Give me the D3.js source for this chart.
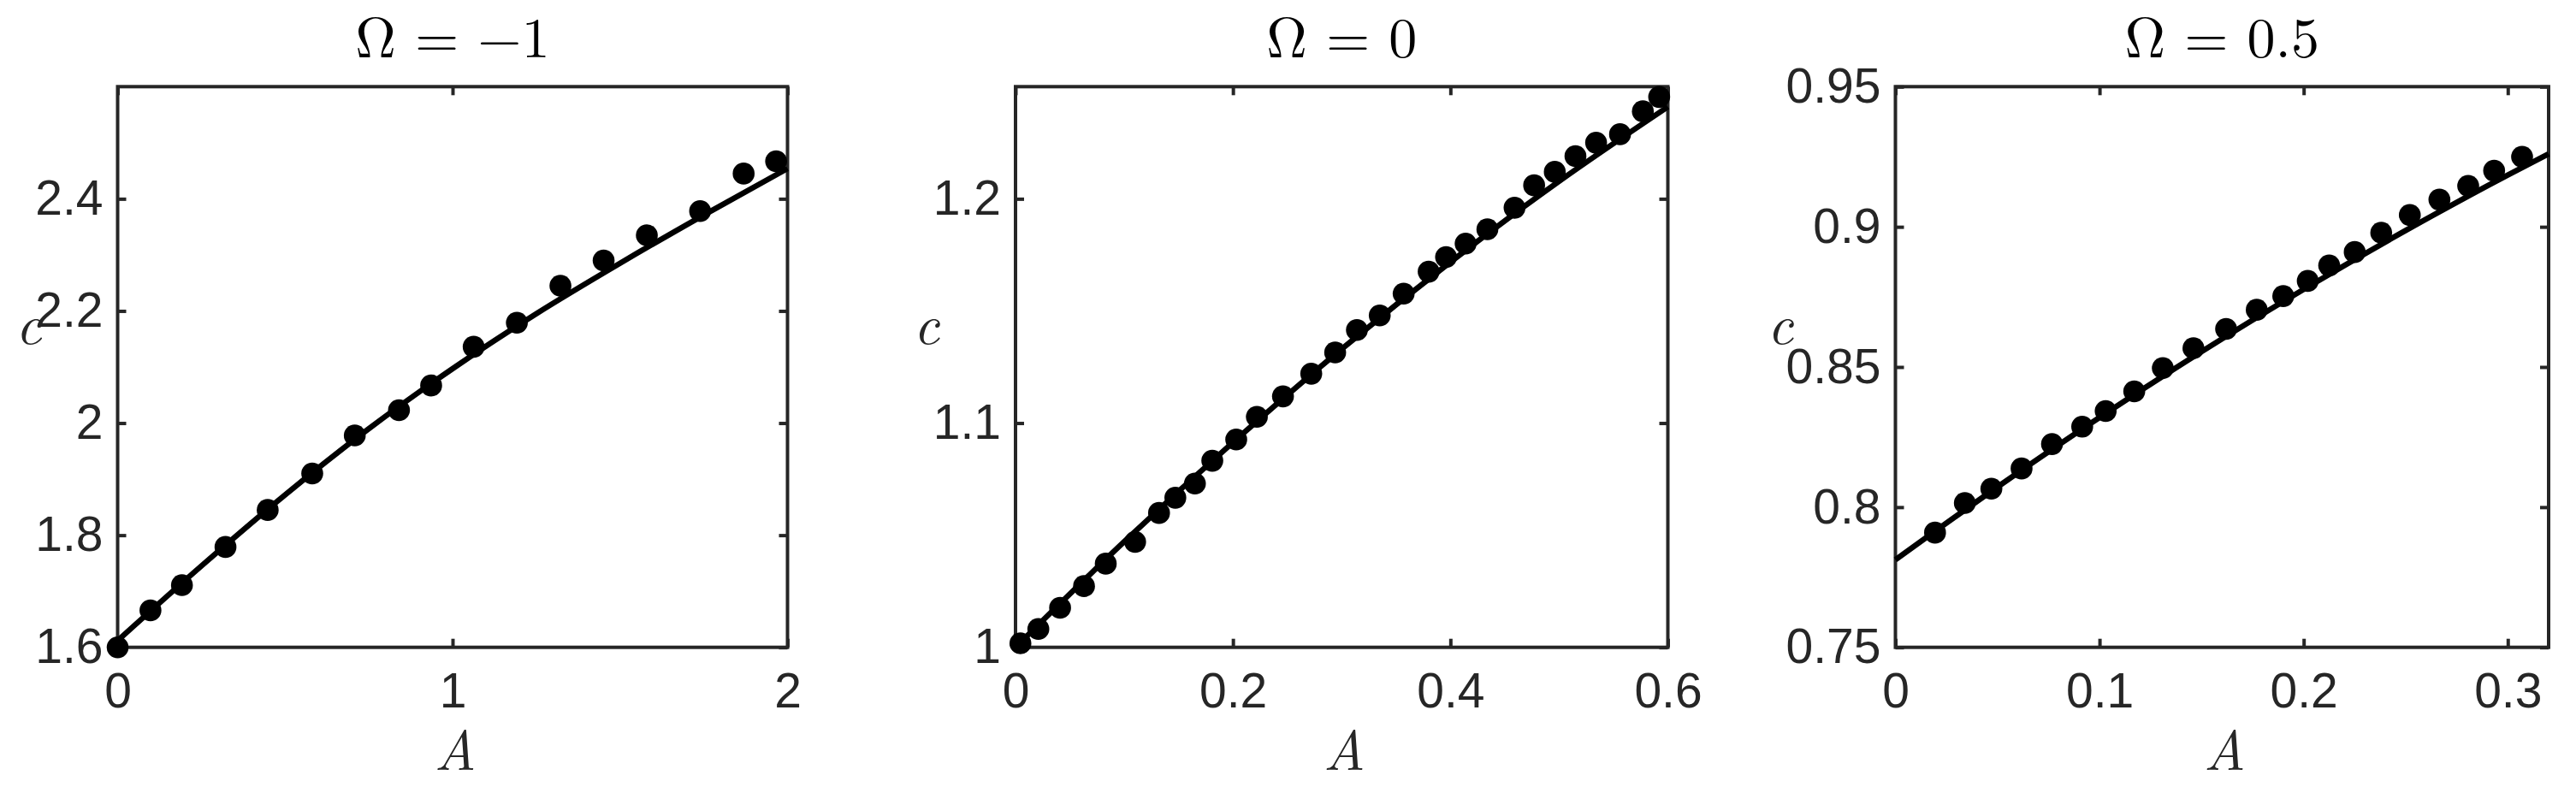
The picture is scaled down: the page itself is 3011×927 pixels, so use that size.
<!DOCTYPE html>
<html>
<head>
<meta charset="utf-8">
<script src="https://cdn.jsdelivr.net/npm/d3@7"></script>
<style>
  html, body { margin: 0; padding: 0; background: #ffffff; }
  svg { display: block; }
</style>
</head>
<body>
<div id="chart"></div>
<script>
// ---------------- DATA ----------------
const panelTitles = ["Ω = −1", "Ω = 0", "Ω = 0.5"];
const xLabel = "A";
const yLabel = "c";

// axis limits
const xLimits = [[0, 2], [0, 0.6], [0, 0.32]];
const yLimits = [[1.6, 2.6], [1, 1.25], [0.75, 0.95]];

// tick values and labels
const xTicks1 = [0, 1, 2];
const xTickLabels1 = ["0", "1", "2"];
const yTicks1 = [1.6, 1.8, 2.0, 2.2, 2.4];
const yTickLabels1 = ["1.6", "1.8", "2", "2.2", "2.4"];

const xTicks2 = [0, 0.2, 0.4, 0.6];
const xTickLabels2 = ["0", "0.2", "0.4", "0.6"];
const yTicks2 = [1.0, 1.1, 1.2];
const yTickLabels2 = ["1", "1.1", "1.2"];

const xTicks3 = [0, 0.1, 0.2, 0.3];
const xTickLabels3 = ["0", "0.1", "0.2", "0.3"];
const yTicks3 = [0.75, 0.80, 0.85, 0.90, 0.95];
const yTickLabels3 = ["0.75", "0.8", "0.85", "0.9", "0.95"];

// dots (numerical)  Ω = -1
const dotsA1 = [0, 0.098, 0.192, 0.322, 0.448, 0.581, 0.708, 0.840, 0.936, 1.063, 1.192, 1.322, 1.451, 1.580, 1.739, 1.869, 1.966];
const dotsC1 = [1.600, 1.666, 1.711, 1.779, 1.845, 1.910, 1.978, 2.023, 2.067, 2.136, 2.179, 2.245, 2.290, 2.335, 2.378, 2.445, 2.467];
// curve (theory)  Ω = -1
const lineA1 = [0, 0.25, 0.5, 0.75, 1.0, 1.25, 1.5, 1.75, 2.0];
const lineC1 = [1.612, 1.745, 1.872, 1.990, 2.097, 2.195, 2.285, 2.371, 2.454];

// dots  Ω = 0
const dotsA2 = [0.0045, 0.021, 0.041, 0.063, 0.083, 0.110, 0.132, 0.147, 0.165, 0.181, 0.203, 0.222, 0.246, 0.272, 0.294, 0.314, 0.335, 0.357, 0.380, 0.396, 0.414, 0.434, 0.459, 0.477, 0.496, 0.515, 0.534, 0.556, 0.577, 0.592];
const dotsC2 = [1.0018, 1.0082, 1.0176, 1.0273, 1.0373, 1.0470, 1.0599, 1.0667, 1.0730, 1.0832, 1.0927, 1.1028, 1.1119, 1.1220, 1.1315, 1.1415, 1.1480, 1.1577, 1.1675, 1.1740, 1.1800, 1.1864, 1.1960, 1.2060, 1.2120, 1.2190, 1.2250, 1.2288, 1.2390, 1.2454];
// curve  Ω = 0
const lineA2 = [0, 0.1, 0.2, 0.3, 0.4, 0.5, 0.6];
const lineC2 = [1.000, 1.0471, 1.0914, 1.1330, 1.1718, 1.2078, 1.2410];

// dots  Ω = 0.5
const dotsA3 = [0.0194, 0.034, 0.047, 0.0618, 0.0767, 0.0915, 0.103, 0.117, 0.131, 0.146, 0.162, 0.177, 0.190, 0.202, 0.2125, 0.225, 0.238, 0.252, 0.2665, 0.2806, 0.2933, 0.307];
const dotsC3 = [0.7909, 0.8015, 0.8066, 0.8138, 0.8225, 0.8287, 0.8343, 0.8413, 0.8496, 0.8567, 0.8636, 0.8704, 0.8753, 0.8807, 0.8862, 0.8910, 0.8979, 0.9042, 0.9097, 0.9146, 0.9200, 0.9250];
// curve  Ω = 0.5
const lineA3 = [0, 0.05, 0.1, 0.15, 0.2, 0.25, 0.3, 0.32];
const lineC3 = [0.7812, 0.8072, 0.8320, 0.8555, 0.8777, 0.8987, 0.9185, 0.9260];

// ---------------- LAYOUT ----------------
const W = 3011, H = 927;
const boxes = [
  { left: 137.5, right: 920.5, ylabX: 33.5 },
  { left: 1187, right: 1949.5, ylabX: 1083 },
  { left: 2215.5, right: 2979, ylabX: 2081 }
];
const TOP = 101.3, BOTTOM = 756.7;
const axisColor = "#262626";
const tickFont = "'Liberation Sans', Arial, Helvetica, sans-serif";
const mathFont = "'Latin Modern Roman', 'CMU Serif', 'Liberation Serif', 'Times New Roman', serif";

const panels = [
  { xt: xTicks1, xl: xTickLabels1, yt: yTicks1, yl: yTickLabels1, dA: dotsA1, dC: dotsC1, lA: lineA1, lC: lineC1 },
  { xt: xTicks2, xl: xTickLabels2, yt: yTicks2, yl: yTickLabels2, dA: dotsA2, dC: dotsC2, lA: lineA2, lC: lineC2 },
  { xt: xTicks3, xl: xTickLabels3, yt: yTicks3, yl: yTickLabels3, dA: dotsA3, dC: dotsC3, lA: lineA3, lC: lineC3 }
];

const svg = d3.select("#chart").append("svg")
  .attr("width", W).attr("height", H)
  .attr("viewBox", `0 0 ${W} ${H}`);
svg.append("rect").attr("width", W).attr("height", H).attr("fill", "#fff");

panels.forEach((p, i) => {
  const b = boxes[i];
  const x = d3.scaleLinear().domain(xLimits[i]).range([b.left, b.right]);
  const y = d3.scaleLinear().domain(yLimits[i]).range([BOTTOM, TOP]);
  const g = svg.append("g");

  const styleAxis = sel => {
    sel.select(".domain").remove();
    sel.selectAll(".tick line").attr("stroke", axisColor).attr("stroke-width", 4);
    sel.selectAll(".tick text")
      .attr("fill", axisColor)
      .attr("font-family", tickFont)
      .attr("font-size", 57);
  };

  // bottom axis
  g.append("g").attr("transform", `translate(0,${BOTTOM})`)
    .call(d3.axisBottom(x).tickValues(p.xt).tickFormat((d, k) => p.xl[k]).tickSize(-10).tickPadding(30))
    .call(styleAxis);
  // top axis (ticks only)
  g.append("g").attr("transform", `translate(0,${TOP})`)
    .call(d3.axisTop(x).tickValues(p.xt).tickFormat("").tickSize(-10))
    .call(styleAxis);
  // left axis
  g.append("g").attr("transform", `translate(${b.left},0)`)
    .call(d3.axisLeft(y).tickValues(p.yt).tickFormat((d, k) => p.yl[k]).tickSize(-10).tickPadding(17))
    .call(styleAxis);
  // right axis (ticks only)
  g.append("g").attr("transform", `translate(${b.right},0)`)
    .call(d3.axisRight(y).tickValues(p.yt).tickFormat("").tickSize(-10))
    .call(styleAxis);

  // box
  g.append("rect")
    .attr("x", b.left).attr("y", TOP)
    .attr("width", b.right - b.left).attr("height", BOTTOM - TOP)
    .attr("fill", "none").attr("stroke", axisColor).attr("stroke-width", 4);

  // theory curve
  const lineData = p.lA.map((a, k) => [a, p.lC[k]]);
  g.append("path")
    .datum(lineData)
    .attr("fill", "none")
    .attr("stroke", "#000")
    .attr("stroke-width", 6.5)
    .attr("stroke-linejoin", "round")
    .attr("d", d3.line().x(d => x(d[0])).y(d => y(d[1])).curve(d3.curveMonotoneX));

  // dots
  const dotData = p.dA.map((a, k) => [a, p.dC[k]]);
  g.selectAll("circle.dot").data(dotData).join("circle")
    .attr("class", "dot")
    .attr("cx", d => x(d[0])).attr("cy", d => y(d[1]))
    .attr("r", 12.8).attr("fill", "#000");

  // title
  g.append("text")
    .attr("x", (b.left + b.right) / 2).attr("y", 67)
    .attr("text-anchor", "middle")
    .attr("font-family", mathFont).attr("font-size", 66)
    .attr("fill", "#000")
    .attr("xml:space", "preserve")
    .text(panelTitles[i]);

  // x label
  g.append("text")
    .attr("x", (b.left + b.right) / 2 + 3).attr("y", 900)
    .attr("text-anchor", "middle")
    .attr("font-family", mathFont).attr("font-style", "italic").attr("font-size", 66)
    .attr("fill", axisColor)
    .text(xLabel);

  // y label
  g.append("text")
    .attr("x", b.ylabX).attr("y", 402)
    .attr("text-anchor", "middle")
    .attr("font-family", mathFont).attr("font-style", "italic").attr("font-size", 66)
    .attr("fill", axisColor)
    .text(yLabel);
});
</script>
</body>
</html>
